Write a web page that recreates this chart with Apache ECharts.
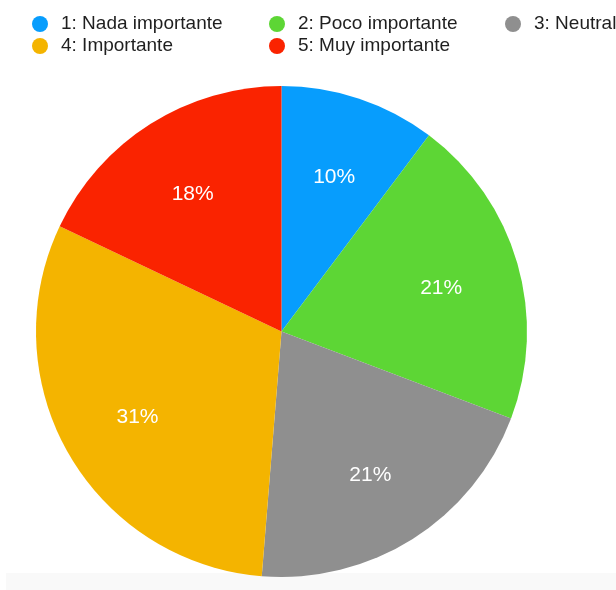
<!DOCTYPE html>
<html>
<head>
<meta charset="utf-8">
<script src="https://cdn.jsdelivr.net/npm/echarts@6/dist/echarts.min.js"></script>
<style>
  html, body { margin: 0; padding: 0; background: #ffffff; }
  #chart { width: 616px; height: 590px; }
</style>
</head>
<body>
<div id="chart"></div>
<script>
// Survey answers: importance rating (counts per option)
const categories = ['1: Nada importante', '2: Poco importante', '3: Neutral', '4: Importante', '5: Muy importante'];
const counts = [4, 8, 8, 12, 7];
const colors = ['#079dfd', '#5dd635', '#8f8f8f', '#f4b400', '#fa2300'];

const font = '"Liberation Sans", Arial, Helvetica, sans-serif';
const slices = categories.map((name, i) => ({ name, value: counts[i] }));

const legendBase = {
  orient: 'vertical',
  top: 14,
  padding: 0,
  itemWidth: 16,
  itemHeight: 16,
  itemGap: 2,
  icon: 'circle',
  selectedMode: false,
  textStyle: { fontFamily: font, fontSize: 19, color: '#1f1f1f', lineHeight: 20, padding: [0, 0, 0, 8] }
};

const chart = echarts.init(document.getElementById('chart'), null, { renderer: 'canvas' });
chart.setOption({
  animation: false,
  color: colors,
  legend: [
    Object.assign({}, legendBase, { left: 32, data: [categories[0], categories[3]] }),
    Object.assign({}, legendBase, { left: 269, data: [categories[1], categories[4]] }),
    Object.assign({}, legendBase, { left: 505, data: [categories[2]] })
  ],
  graphic: [{
    type: 'rect',
    z: -10,
    shape: { x: 6, y: 573, width: 610, height: 17 },
    style: { fill: '#f9f9f9' },
    silent: true
  }],
  series: [
    {
      type: 'pie',
      center: [281.5, 331.5],
      radius: [0, 245.5],
      startAngle: 90,
      clockwise: true,
      label: { show: false },
      labelLine: { show: false },
      emphasis: { disabled: true },
      itemStyle: { borderWidth: 0 },
      data: slices
    },
    {
      // percentage labels, placed in the outer band of each slice
      type: 'pie',
      center: [281.5, 331.5],
      radius: [81, 245.5],
      startAngle: 90,
      clockwise: true,
      silent: true,
      legendHoverLink: false,
      emphasis: { disabled: true },
      itemStyle: { color: 'transparent', borderWidth: 0 },
      label: {
        show: true,
        position: 'inside',
        color: '#ffffff',
        fontFamily: font,
        fontSize: 21,
        offset: [0, 3],
        formatter: p => Math.round(p.percent) + '%'
      },
      labelLine: { show: false },
      data: slices
    }
  ]
});
</script>
</body>
</html>
